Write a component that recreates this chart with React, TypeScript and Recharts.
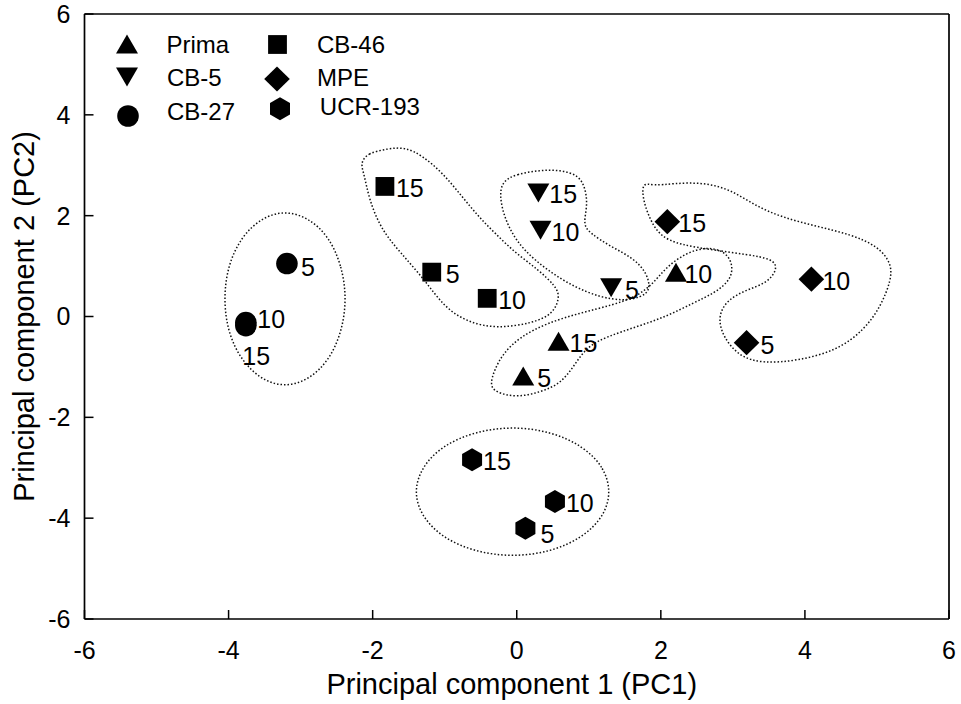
import React from 'react';
import { ScatterChart, Scatter, XAxis, YAxis, Legend } from 'recharts';

const FONT = "'Liberation Sans', Arial, Helvetica, sans-serif";

// axis ticks (both axes share the same range)
const TICKS = [-6, -4, -2, 0, 2, 4, 6];

type Pt = { x: number; y: number; t: string };
type XY = { x: number; y: number };

// PCA scores, labelled by time point
const prima: Pt[] = [
  { x: 0.09, y: -1.18, t: '5' },
  { x: 2.21, y: 0.88, t: '10' },
  { x: 0.58, y: -0.49, t: '15' },
];
const cb5: Pt[] = [
  { x: 1.31, y: 0.57, t: '5' },
  { x: 0.33, y: 1.71, t: '10' },
  { x: 0.3, y: 2.45, t: '15' },
];
const cb27: Pt[] = [
  { x: -3.19, y: 1.05, t: '5' },
  { x: -3.76, y: -0.18, t: '15' },
  { x: -3.76, y: -0.12, t: '10' },
];
const cb46: Pt[] = [
  { x: -1.18, y: 0.88, t: '5' },
  { x: -0.41, y: 0.36, t: '10' },
  { x: -1.83, y: 2.58, t: '15' },
];
const mpe: Pt[] = [
  { x: 3.19, y: -0.52, t: '5' },
  { x: 4.09, y: 0.74, t: '10' },
  { x: 2.09, y: 1.88, t: '15' },
];
const ucr193: Pt[] = [
  { x: 0.12, y: -4.2, t: '5' },
  { x: 0.53, y: -3.67, t: '10' },
  { x: -0.62, y: -2.84, t: '15' },
];

// hand-drawn group outlines (control points of closed curves)
const toXY = (a: number[][]): XY[] => a.map(([x, y]) => ({ x, y }));

const cb27Hull = toXY([
  [-2.36, 0.35], [-2.43, 1.02], [-2.61, 1.59], [-2.89, 1.96], [-3.22, 2.1], [-3.54, 1.96],
  [-3.82, 1.59], [-4.01, 1.02], [-4.07, 0.35], [-4.01, -0.32], [-3.82, -0.88], [-3.54, -1.26],
  [-3.22, -1.4], [-2.89, -1.26], [-2.61, -0.88], [-2.43, -0.32],
]);
const ucrHull = toXY([
  [1.31, -3.48], [1.21, -2.98], [0.91, -2.56], [0.47, -2.28], [-0.06, -2.18], [-0.58, -2.28],
  [-1.03, -2.56], [-1.32, -2.98], [-1.43, -3.48], [-1.32, -3.97], [-1.03, -4.39], [-0.58, -4.67],
  [-0.06, -4.77], [0.47, -4.67], [0.91, -4.39], [1.21, -3.97],
]);
const cb46Hull = toXY([
  [-2.17, 3.03], [-2.08, 3.24], [-1.78, 3.33], [-1.55, 3.36], [-1.31, 3.19], [-1.03, 2.85],
  [-0.76, 2.38], [-0.53, 1.98], [-0.3, 1.65], [-0.02, 1.26], [0.3, 0.93], [0.54, 0.6],
  [0.6, 0.4], [0.51, 0.05], [0.22, -0.13], [-0.26, -0.24], [-0.68, -0.12], [-1.01, 0.19],
  [-1.28, 0.73], [-1.61, 1.26], [-1.88, 1.72], [-2.05, 2.32], [-2.12, 2.84],
]);
const cb5Hull = toXY([
  [-0.24, 2.66], [0, 2.83], [0.32, 2.9], [0.6, 2.91], [0.87, 2.8], [0.96, 2.51],
  [0.98, 2.18], [0.92, 1.82], [1.02, 1.65], [1.3, 1.39], [1.62, 1.16], [1.81, 0.86],
  [1.86, 0.52], [1.72, 0.38], [1.48, 0.31], [1.16, 0.38], [0.79, 0.59], [0.42, 0.92],
  [0.09, 1.32], [-0.1, 1.72], [-0.22, 2.18],
]);
const primaHull = toXY([
  [-0.31, -1.5], [0, -1.61], [0.33, -1.5], [0.61, -1.33], [0.79, -0.99], [0.97, -0.6],
  [1.25, -0.4], [1.67, -0.2], [2.08, 0], [2.45, 0.27], [2.74, 0.46], [2.98, 0.73],
  [3.0, 1.06], [2.88, 1.3], [2.64, 1.38], [2.36, 1.27], [2.08, 0.99], [1.9, 0.66],
  [1.67, 0.4], [1.34, 0.23], [0.88, 0.07], [0.42, -0.13], [0.05, -0.4], [-0.19, -0.73],
  [-0.31, -1.06], [-0.37, -1.34],
]);
const mpeHull = toXY([
  [1.74, 2.67], [1.9, 2.59], [2.17, 2.64], [2.59, 2.66], [2.97, 2.52], [3.33, 2.18],
  [3.7, 1.96], [4.16, 1.79], [4.63, 1.63], [5.01, 1.4], [5.2, 1.06], [5.2, 0.73],
  [5.05, 0.19], [4.82, -0.27], [4.44, -0.68], [3.89, -0.88], [3.42, -0.93], [3.09, -0.8],
  [2.86, -0.4], [2.79, 0], [2.92, 0.33], [3.19, 0.53], [3.47, 0.66], [3.62, 0.93],
  [3.57, 1.14], [3.19, 1.23], [2.73, 1.32], [2.27, 1.42], [1.99, 1.59], [1.85, 1.92],
  [1.75, 2.32],
]);

const HULLS = [cb27Hull, ucrHull, cb46Hull, cb5Hull, primaHull, mpeHull];

type Kind = 'triUp' | 'triDown' | 'circle' | 'square' | 'diamond' | 'hexagon';

const SERIES: { name: string; data: Pt[]; kind: Kind }[] = [
  { name: 'Prima', data: prima, kind: 'triUp' },
  { name: 'CB-5', data: cb5, kind: 'triDown' },
  { name: 'CB-27', data: cb27, kind: 'circle' },
  { name: 'CB-46', data: cb46, kind: 'square' },
  { name: 'MPE', data: mpe, kind: 'diamond' },
  { name: 'UCR-193', data: ucr193, kind: 'hexagon' },
];

function Marker({ kind, cx, cy }: { kind: Kind; cx: number; cy: number }) {
  const f = '#000';
  switch (kind) {
    case 'triUp':
      return <polygon points={`${cx},${cy - 9.5} ${cx + 11},${cy + 9.5} ${cx - 11},${cy + 9.5}`} fill={f} />;
    case 'triDown':
      return <polygon points={`${cx - 11},${cy - 9.5} ${cx + 11},${cy - 9.5} ${cx},${cy + 9.5}`} fill={f} />;
    case 'circle':
      return <circle cx={cx} cy={cy} r={10.8} fill={f} />;
    case 'square':
      return <rect x={cx - 9.4} y={cy - 9.4} width={18.8} height={18.8} fill={f} />;
    case 'diamond':
      return <polygon points={`${cx},${cy - 12.6} ${cx + 12.8},${cy} ${cx},${cy + 12.6} ${cx - 12.8},${cy}`} fill={f} />;
    default:
      return (
        <polygon
          points={`${cx},${cy - 11.5} ${cx + 10},${cy - 5.75} ${cx + 10},${cy + 5.75} ${cx},${cy + 11.5} ${cx - 10},${cy + 5.75} ${cx - 10},${cy - 5.75}`}
          fill={f}
        />
      );
  }
}

// where each point's label sits relative to its marker
const LABEL_SHIFT: Record<string, [number, number]> = {
  'CB-27 5': [14, 12],
  'CB-27 10': [11.5, 5.5],
  'CB-27 15': [-3.5, 39],
  'UCR-193 5': [15, 15],
  'Prima 10': [8.5, 10.5],
};

const makeShape = (name: string, kind: Kind) => (props: any) => {
  const { cx, cy, payload } = props;
  const t: string = payload.t;
  const [dx, dy] = LABEL_SHIFT[`${name} ${t}`] ?? (t === '5' ? [14, 11] : [11, 10.5]);
  return (
    <g>
      <Marker kind={kind} cx={cx} cy={cy} />
      <text x={cx + dx} y={cy + dy} fontSize={25} fontFamily={FONT} fill="#000">
        {t}
      </text>
    </g>
  );
};

const KIND_BY_NAME: Record<string, Kind> = Object.fromEntries(SERIES.map((s) => [s.name, s.kind]));

// two-column legend layout: marker centre and text origin
const LEGEND_SLOTS: Record<string, { mx: number; my: number; tx: number; ty: number }> = {
  Prima: { mx: 27, my: 24, tx: 66.5, ty: 33.3 },
  'CB-5': { mx: 27, my: 57, tx: 67, ty: 65.7 },
  'CB-27': { mx: 28, my: 96, tx: 67, ty: 100 },
  'CB-46': { mx: 177.5, my: 24.5, tx: 217, ty: 33.3 },
  MPE: { mx: 177, my: 59, tx: 217, ty: 65.7 },
  'UCR-193': { mx: 180, my: 88.7, tx: 219.8, ty: 95 },
};

const renderLegend = (props: any) => {
  const payload: any[] = props.payload || [];
  return (
    <svg width={360} height={120} style={{ display: 'block' }}>
      {payload.map((entry) => {
        const name = String(entry.value);
        const slot = LEGEND_SLOTS[name];
        const kind = KIND_BY_NAME[name];
        if (!slot || !kind) return null;
        return (
          <g key={name}>
            <Marker kind={kind} cx={slot.mx} cy={slot.my} />
            <text x={slot.tx} y={slot.ty} fontSize={24} fontFamily={FONT} fill="#000">
              {name}
            </text>
          </g>
        );
      })}
    </svg>
  );
};

const xTitle = (p: any) => {
  const vb = p.viewBox;
  return (
    <text x={vb.x + vb.width / 2 - 5} y={vb.y + 75} textAnchor="middle" fontSize={29} fontFamily={FONT} fill="#000">
      Principal component 1 (PC1)
    </text>
  );
};

const yTitle = (p: any) => {
  const vb = p.viewBox;
  const x = 34;
  const y = vb.y + vb.height / 2;
  return (
    <text x={x} y={y} transform={`rotate(-90, ${x}, ${y})`} textAnchor="middle" fontSize={29} fontFamily={FONT} fill="#000">
      Principal component 2 (PC2)
    </text>
  );
};

const axisLine = { stroke: '#000', strokeWidth: 1.7 };
const tickLine = { stroke: '#000', strokeWidth: 1.5 };
const tickStyle = { fontSize: 25, fill: '#000', fontFamily: FONT };
const outline = { stroke: '#111', strokeWidth: 1.5, strokeDasharray: '1.5 2', fill: 'none' };
const noPoint = () => <g />;

export default function App() {
  return (
    <div style={{ position: 'absolute', left: 0, top: 0, background: '#fff' }}>
      <ScatterChart width={961} height={704} margin={{ top: 13, right: 11, bottom: 0, left: 0 }}>
        <XAxis
          type="number"
          dataKey="x"
          domain={[-6, 6]}
          ticks={TICKS}
          allowDataOverflow
          height={85}
          tickSize={-9}
          tickMargin={31.5}
          axisLine={axisLine}
          tickLine={tickLine}
          tick={tickStyle}
          label={{ content: xTitle }}
        />
        <XAxis
          xAxisId="top"
          orientation="top"
          type="number"
          domain={[-6, 6]}
          ticks={TICKS}
          allowDataOverflow
          height={1}
          tickSize={-9}
          tick={false}
          axisLine={axisLine}
          tickLine={tickLine}
        />
        <YAxis
          type="number"
          dataKey="y"
          domain={[-6, 6]}
          ticks={TICKS}
          allowDataOverflow
          width={84.5}
          tickSize={-9}
          tickMargin={23}
          axisLine={axisLine}
          tickLine={tickLine}
          tick={tickStyle}
          label={{ content: yTitle }}
        />
        <YAxis
          yAxisId="right"
          orientation="right"
          type="number"
          domain={[-6, 6]}
          ticks={TICKS}
          allowDataOverflow
          width={1}
          tickSize={-9}
          tick={false}
          axisLine={axisLine}
          tickLine={tickLine}
        />
        <Legend
          layout="horizontal"
          verticalAlign="middle"
          align="center"
          content={renderLegend}
          wrapperStyle={{ left: 100, top: 20, width: 360, height: 120 }}
        />
        {HULLS.map((h, i) => (
          <Scatter
            key={`hull-${i}`}
            data={h}
            line={outline}
            lineJointType="basisClosed"
            shape={noPoint}
            legendType="none"
            isAnimationActive={false}
          />
        ))}
        {SERIES.map((s) => (
          <Scatter
            key={s.name}
            name={s.name}
            data={s.data}
            fill="#000"
            shape={makeShape(s.name, s.kind)}
            isAnimationActive={false}
          />
        ))}
      </ScatterChart>
    </div>
  );
}
